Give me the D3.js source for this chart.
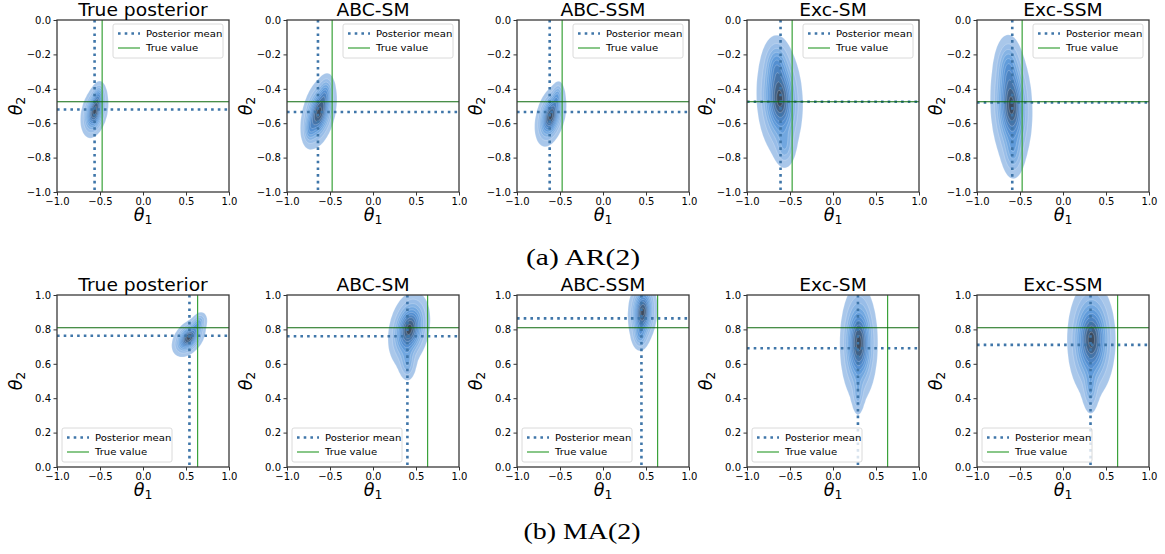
<!DOCTYPE html>
<html>
<head>
<meta charset="utf-8">
<script src="https://cdn.jsdelivr.net/npm/d3@7"></script>
<style>
	body { margin: 0; background: #fff; }
	svg text { font-family: "DejaVu Sans", sans-serif; fill: #000; }
	.caption { font-family: "Liberation Serif", serif; }
</style>
</head>
<body>
<svg id="chart" width="1165" height="554"></svg>
<script>
// values
var methods = ['True posterior', 'ABC-SM', 'ABC-SSM', 'Exc-SM', 'Exc-SSM'];
var captions = ['(a) AR(2)', '(b) MA(2)'];
var legendLabels = ['Posterior mean', 'True value'];
var xTicks = [-1.0, -0.5, 0.0, 0.5, 1.0];
var arYTicks = [-1.0, -0.8, -0.6, -0.4, -0.2, 0.0];
var maYTicks = [0.0, 0.2, 0.4, 0.6, 0.8, 1.0];

var arTrue = [-0.475, -0.475];
var maTrue = [0.635, 0.81];

var arMeans = [[-0.563, -0.52], [-0.64, -0.535], [-0.62, -0.535], [-0.61, -0.475], [-0.59, -0.48]];
var maMeans = [[0.54, 0.763], [0.40, 0.76], [0.447, 0.864], [0.29, 0.69], [0.32, 0.71]];

// kde shapes, each a few lumps: [theta1, theta2, spread1, spread2, tilt, weight]
var arBlobs = [
	[[-0.565, -0.535, 0.066, 0.062, 0.3, 1], [-0.52, -0.44, 0.04, 0.04, 0.2, 0.35]],
	[[-0.63, -0.54, 0.085, 0.085, 0.35, 1], [-0.55, -0.42, 0.045, 0.05, 0.2, 0.3], [-0.74, -0.64, 0.04, 0.045, 0.1, 0.25]],
	[[-0.61, -0.56, 0.075, 0.072, 0.35, 1], [-0.53, -0.44, 0.035, 0.04, 0.2, 0.3]],
	[[-0.62, -0.46, 0.11, 0.14, -0.1, 1], [-0.66, -0.25, 0.07, 0.07, 0, 0.3], [-0.56, -0.74, 0.06, 0.06, 0, 0.25]],
	[[-0.6, -0.5, 0.1, 0.15, -0.1, 1], [-0.64, -0.26, 0.07, 0.08, 0, 0.3], [-0.58, -0.78, 0.06, 0.07, 0, 0.25]]
];
var maBlobs = [
	[[0.53, 0.75, 0.08, 0.045, 0.4, 1], [0.65, 0.84, 0.045, 0.03, 0.3, 0.35]],
	[[0.42, 0.8, 0.1, 0.09, 0.25, 1], [0.4, 0.6, 0.05, 0.05, 0, 0.3]],
	[[0.46, 0.9, 0.07, 0.08, 0.1, 1], [0.43, 0.76, 0.045, 0.04, 0, 0.3]],
	[[0.3, 0.72, 0.09, 0.14, 0, 1], [0.29, 0.42, 0.035, 0.06, 0, 0.25]],
	[[0.33, 0.74, 0.115, 0.14, 0, 1], [0.32, 0.45, 0.045, 0.07, 0, 0.3]]
];

var svg = d3.select('#chart');
var size = 172;
var lefts = [57, 287, 517, 747, 977];
var fmt = d3.format('.1f');
var kdeColor = d3.interpolateRgbBasis(['#a9c7ea', '#8ab6e6', '#639fdd', '#4e8bd0', '#4674a8', '#3b4a5e']);
var meanColor = '#3f76a9';
var trueColor = '#3aa23a';
var clipId = 0;

// the figure text is a little wider than the font gives
function stretch(sel, f) {
	sel.each(function() {
		this.setAttribute('textLength', this.getComputedTextLength() * f);
		this.setAttribute('lengthAdjust', 'spacingAndGlyphs');
	});
}

function drawPanel(left, top, p) {
	var g = svg.append('g').attr('transform', 'translate(' + left + ',' + top + ')');
	var x = d3.scaleLinear().domain([-1, 1]).range([0, size]);
	var y = d3.scaleLinear().domain(p.yDomain).range([size, 0]);

	clipId++;
	g.append('clipPath').attr('id', 'clip' + clipId)
		.append('rect').attr('width', size).attr('height', size);

	// density grid from the lumps
	var n = 86, k = size / n, vals = [];
	for (var j = 0; j < n; j++) {
		for (var i = 0; i < n; i++) {
			var px = x.invert((i + 0.5) * k), py = y.invert((j + 0.5) * k), s = 0;
			p.blobs.forEach(function(b) {
				var u = (px - b[0]) / b[2], v = (py - b[1]) / b[3], r = b[4];
				s += b[5] * Math.exp(-(u * u - 2 * r * u * v + v * v) / (2 * (1 - r * r)));
			});
			vals.push(s);
		}
	}
	var mx = d3.max(vals);
	var thr = d3.range(10).map(function(i) { return mx * (0.05 + i * 0.1); });
	var contours = d3.contours().size([n, n]).thresholds(thr)(vals);
	var path = d3.geoPath(d3.geoIdentity().scale(k));

	g.append('g').attr('clip-path', 'url(#clip' + clipId + ')')
		.selectAll('path').data(contours).join('path')
			.attr('d', path)
			.attr('fill', function(d, i) { return kdeColor(i / 9); })
			.attr('stroke', '#fff')
			.attr('stroke-opacity', 0.35)
			.attr('stroke-width', 0.6);

	// posterior mean (dotted) and true value
	var lines = g.append('g').attr('clip-path', 'url(#clip' + clipId + ')');
	lines.append('line')
		.attr('x1', x(p.mean[0])).attr('x2', x(p.mean[0])).attr('y1', 0).attr('y2', size)
		.attr('stroke', meanColor).attr('stroke-width', 2.6).attr('stroke-dasharray', '2.6,4.1');
	lines.append('line')
		.attr('x1', 0).attr('x2', size).attr('y1', y(p.mean[1])).attr('y2', y(p.mean[1]))
		.attr('stroke', meanColor).attr('stroke-width', 2.6).attr('stroke-dasharray', '2.6,4.1');
	lines.append('line')
		.attr('x1', x(p.truth[0])).attr('x2', x(p.truth[0])).attr('y1', 0).attr('y2', size)
		.attr('stroke', trueColor).attr('stroke-width', 1.2);
	lines.append('line')
		.attr('x1', 0).attr('x2', size).attr('y1', y(p.truth[1])).attr('y2', y(p.truth[1]))
		.attr('stroke', '#0c6a0c').attr('stroke-width', 1.1);

	// axes
	var bottomAxis = g.append('g').attr('transform', 'translate(0,' + size + ')')
		.call(d3.axisBottom(x).tickValues(xTicks).tickFormat(fmt).tickSize(3.5).tickPadding(2));
	var leftAxis = g.append('g')
		.call(d3.axisLeft(y).tickValues(p.yTicks).tickFormat(fmt).tickSize(3.5).tickPadding(2.5));
	[bottomAxis, leftAxis].forEach(function(a) {
		a.select('.domain').remove();
		a.selectAll('.tick line').attr('stroke', '#333').attr('stroke-width', 1);
		a.selectAll('.tick text').attr('font-size', 10).attr('font-family', 'DejaVu Sans').attr('fill', '#111');
	});

	g.append('rect').attr('width', size).attr('height', size)
		.attr('fill', 'none').attr('stroke', '#3a3a3a').attr('stroke-width', 1.3);

	// title and axis labels
	g.append('text').attr('x', size / 2).attr('y', -4).attr('text-anchor', 'middle')
		.attr('font-size', 17).text(p.title)
		.call(stretch, 1.1);

	var xl = g.append('text').attr('x', size / 2).attr('y', size + 29).attr('text-anchor', 'middle');
	xl.append('tspan').attr('font-size', 17.5).attr('font-style', 'italic').text('θ');
	xl.append('tspan').attr('font-size', 12.5).attr('dy', 3).text('1');

	var yl = g.append('text').attr('transform', 'translate(-35,' + (size / 2) + ') rotate(-90)').attr('text-anchor', 'middle');
	yl.append('tspan').attr('font-size', 17.5).attr('font-style', 'italic').text('θ');
	yl.append('tspan').attr('font-size', 12.5).attr('dy', 3).text('2');

	// legend
	var lg = g.append('g').attr('transform', 'translate(' + p.legend[0] + ',' + p.legend[1] + ')');
	lg.append('rect').attr('width', 110).attr('height', 34).attr('rx', 2)
		.attr('fill', '#fff').attr('fill-opacity', 0.8).attr('stroke', '#d0d0d0').attr('stroke-width', 0.8);
	legendLabels.forEach(function(lbl, i) {
		var cy = 9.5 + i * 14.5;
		var ln = lg.append('line').attr('x1', 5).attr('x2', 27).attr('y1', cy).attr('y2', cy);
		if (i == 0) ln.attr('stroke', meanColor).attr('stroke-width', 2.6).attr('stroke-dasharray', '2.6,4.1');
		else ln.attr('stroke', trueColor).attr('stroke-width', 1.2);
		lg.append('text').attr('x', 33).attr('y', cy).attr('dy', '0.35em')
			.attr('font-size', 9.5).attr('fill', '#222').text(lbl)
			.call(stretch, 1.06);
	});
}

methods.forEach(function(m, i) {
	drawPanel(lefts[i], 20, {
		title: m, yDomain: [-1, 0], yTicks: arYTicks,
		blobs: arBlobs[i], mean: arMeans[i], truth: arTrue, legend: [56, 4]
	});
	drawPanel(lefts[i], 295, {
		title: m, yDomain: [0, 1], yTicks: maYTicks,
		blobs: maBlobs[i], mean: maMeans[i], truth: maTrue, legend: [5, 133]
	});
});

svg.append('text').attr('class', 'caption').attr('x', 583).attr('y', 265)
	.attr('text-anchor', 'middle').attr('font-size', 23)
	.attr('textLength', 114).attr('lengthAdjust', 'spacingAndGlyphs').text(captions[0]);
svg.append('text').attr('class', 'caption').attr('x', 582).attr('y', 539)
	.attr('text-anchor', 'middle').attr('font-size', 23)
	.attr('textLength', 117).attr('lengthAdjust', 'spacingAndGlyphs').text(captions[1]);
</script>
</body>
</html>
